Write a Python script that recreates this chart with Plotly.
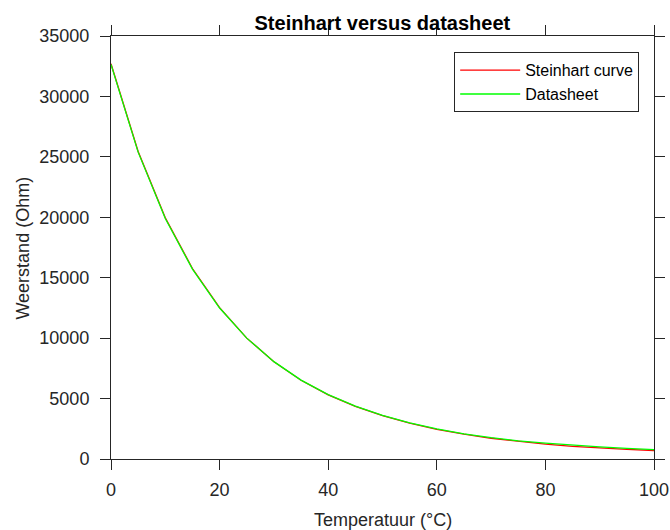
import plotly.graph_objects as go

temps = [0, 5, 10, 15, 20, 25, 30, 35, 40, 45, 50, 55, 60, 65, 70, 75, 80, 85, 90, 95, 100]
steinhart = [32700, 25450, 19960, 15760, 12520, 10000, 8050, 6520, 5310, 4350,
             3580, 2960, 2460, 2050, 1715, 1440, 1225, 1050, 905, 790, 705]
datasheet = [32650, 25390, 19900, 15710, 12490, 10000, 8057, 6531, 5327, 4370,
             3603, 2986, 2488, 2083, 1760, 1500, 1310, 1140, 995, 875, 770]

x_ticks = [0, 20, 40, 60, 80, 100]
y_ticks = [0, 5000, 10000, 15000, 20000, 25000, 30000, 35000]
y_labels = [str(v) for v in y_ticks]

FONT = "Liberation Sans, Arial, Helvetica, sans-serif"
AX = "#262626"

fig = go.Figure()
fig.add_trace(go.Scatter(x=temps, y=steinhart, mode="lines", name="Steinhart curve",
                         line=dict(color="#ff0000", width=1.3)))
fig.add_trace(go.Scatter(x=temps, y=datasheet, mode="lines", name="Datasheet",
                         line=dict(color="#00ff00", width=1.3)))

axis_common = dict(showline=True, linecolor=AX, linewidth=1, mirror="ticks",
                   ticks="outside", ticklen=10, tickcolor=AX, tickwidth=1,
                   showgrid=False, zeroline=False, automargin=False,
                   tickfont=dict(family=FONT, size=18, color=AX))

fig.update_layout(
    width=670, height=530,
    margin=dict(l=110.5, r=15.5, t=35.7, b=70.7),
    paper_bgcolor="white", plot_bgcolor="white",
    title=dict(text="<b>Steinhart versus datasheet</b>", x=0.5707, xanchor="center",
               y=1 - 30/530, yanchor="bottom", yref="container",
               font=dict(family=FONT, size=20, color="black")),
    xaxis=dict(range=[0, 100], tickvals=x_ticks, ticklabelstandoff=4, **axis_common),
    yaxis=dict(range=[0, 35000], tickvals=y_ticks, ticktext=y_labels,
               ticklabelstandoff=7, **axis_common),
    legend=dict(x=0.632, y=0.9615, xanchor="left", yanchor="top",
                bgcolor="white", bordercolor=AX, borderwidth=1,
                font=dict(family=FONT, size=16, color="black"),
                itemwidth=60, tracegroupgap=0),
    showlegend=True,
    annotations=[
        dict(text="Temperatuur (°C)", xref="paper", yref="paper", x=0.5, y=-0.1433,
             xanchor="center", yanchor="middle", showarrow=False,
             font=dict(family=FONT, size=18, color=AX)),
        dict(text="Weerstand (Ohm)", xref="paper", yref="paper", x=-0.1627, y=0.499,
             xanchor="center", yanchor="middle", showarrow=False, textangle=-90,
             font=dict(family=FONT, size=18, color=AX)),
    ],
)

fig.write_html("out.html")
